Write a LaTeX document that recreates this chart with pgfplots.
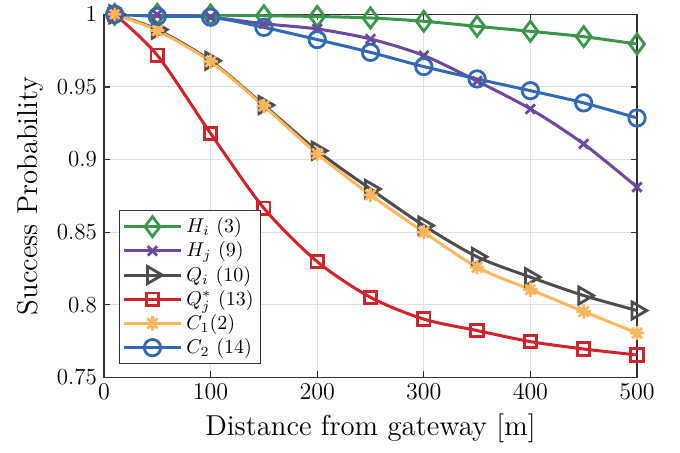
\documentclass[border=0pt]{standalone}
\usepackage{pgfplots}
\pgfplotsset{compat=1.18}

\definecolor{cgreen}{RGB}{58,150,72}
\definecolor{cpurple}{RGB}{110,72,160}
\definecolor{cgray}{RGB}{77,77,77}
\definecolor{cred}{RGB}{210,35,42}
\definecolor{corange}{RGB}{255,182,92}
\definecolor{cblue}{RGB}{50,105,180}

% matlab-like asterisk (+ and x together)
\pgfdeclareplotmark{matast}{%
  \pgfpathmoveto{\pgfqpoint{-\pgfplotmarksize}{0pt}}\pgfpathlineto{\pgfqpoint{\pgfplotmarksize}{0pt}}%
  \pgfpathmoveto{\pgfqpoint{0pt}{-\pgfplotmarksize}}\pgfpathlineto{\pgfqpoint{0pt}{\pgfplotmarksize}}%
  \pgfpathmoveto{\pgfqpoint{-.7071\pgfplotmarksize}{-.7071\pgfplotmarksize}}\pgfpathlineto{\pgfqpoint{.7071\pgfplotmarksize}{.7071\pgfplotmarksize}}%
  \pgfpathmoveto{\pgfqpoint{-.7071\pgfplotmarksize}{.7071\pgfplotmarksize}}\pgfpathlineto{\pgfqpoint{.7071\pgfplotmarksize}{-.7071\pgfplotmarksize}}%
  \pgfusepathqstroke}

\begin{document}
\begin{tikzpicture}
  \begin{axis}[
      at={(0,0)}, anchor=south west,
      scale only axis,
      width=266.5pt, height=181.5pt,
      xmin=0, xmax=500,
      ymin=0.75, ymax=1,
      xtick={0,100,200,300,400,500},
      ytick={0.75,0.8,0.85,0.9,0.95,1},
      yticklabels={0.75,0.8,0.85,0.9,0.95,1},
      grid=major,
      grid style={black!12, line width=0.5pt},
      tick align=inside,
      tick pos=both,
      major tick length=3pt,
      axis line style={black!80, line width=0.6pt},
      tick style={black!80, line width=0.6pt},
      tick label style={font=\fontsize{11.5}{13}\selectfont},
      label style={font=\fontsize{14.4}{16}\selectfont},
      xlabel={Distance from gateway [m]},
      ylabel={Success Probability},
      every axis plot/.append style={line width=1.5pt, smooth},
      legend cell align=left,
      legend style={at={(0.028,0.036)}, anchor=south west,
        font=\fontsize{10}{11}\selectfont, draw=black!80, line width=0.6pt,
        inner sep=1.5pt, row sep=-0.9pt},
      legend image code/.code={%
        \draw[mark repeat=2, mark phase=2, smooth=false]
          plot coordinates {(0cm,0cm) (0.5cm,0cm) (1cm,0cm)};},
    ]

    \addplot[cgreen, mark=diamond, mark size=5pt, mark options={solid, line width=1.4pt}] coordinates {
      (10,1.0) (50,1.0) (100,0.9995) (150,0.999) (200,0.9985) (250,0.9975)
      (300,0.9952) (350,0.9917) (400,0.9883) (450,0.9846) (500,0.9795)
    };
    \addlegendentry{$H_i$ (3)}

    \addplot[cpurple, mark=x, mark size=3.3pt, mark options={solid, line width=1.4pt}] coordinates {
      (10,1.0) (50,0.9998) (100,0.998) (150,0.9935) (200,0.9899) (250,0.983)
      (300,0.9716) (350,0.954) (400,0.9348) (450,0.9107) (500,0.881)
    };
    \addlegendentry{$H_j$ (9)}

    \addplot[cgray, mark=triangle, mark size=4.9pt, mark options={solid, rotate=-90, line width=1.4pt}] coordinates {
      (10,1.0) (50,0.9895) (100,0.968) (150,0.9375) (200,0.906) (250,0.8797)
      (300,0.8545) (350,0.833) (400,0.819) (450,0.8063) (500,0.796)
    };
    \addlegendentry{$Q_i$ (10)}

    \addplot[cred, mark=square, mark size=3.1pt, mark options={solid, line width=1.4pt}] coordinates {
      (10,1.0) (50,0.9718) (100,0.918) (150,0.8665) (200,0.8297) (250,0.8051)
      (300,0.7901) (350,0.7822) (400,0.7746) (450,0.7695) (500,0.7654)
    };
    \addlegendentry{$Q_j^*$ (13)}

    \addplot[corange, mark=matast, mark size=3.6pt, mark options={solid, line width=1.4pt}] coordinates {
      (10,1.0) (50,0.9888) (100,0.9674) (150,0.9368) (200,0.904) (250,0.8756)
      (300,0.85) (350,0.8258) (400,0.8104) (450,0.7953) (500,0.7805)
    };
    \addlegendentry{$C_1$(2)}

    \addplot[cblue, mark=o, mark size=4.1pt, mark options={solid, line width=1.4pt}] coordinates {
      (10,1.0) (50,0.9986) (100,0.998) (150,0.991) (200,0.9826) (250,0.9738)
      (300,0.964) (350,0.9555) (400,0.9474) (450,0.939) (500,0.9286)
    };
    \addlegendentry{$C_2$ (14)}
  \end{axis}
  \path (-52pt,-37.5pt) rectangle (288pt,187.5pt);
\end{tikzpicture}
\end{document}
